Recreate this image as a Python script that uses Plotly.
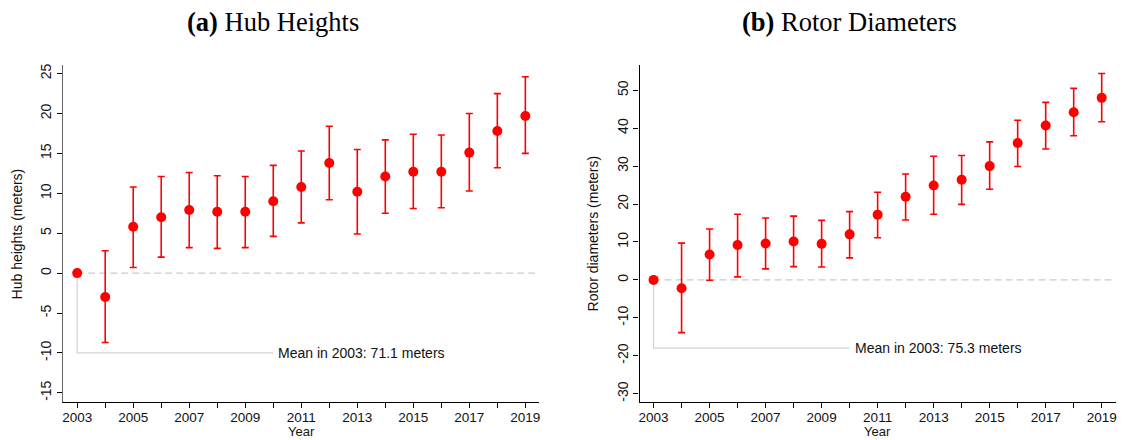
import plotly.graph_objects as go

# Event-study estimates relative to 2003, with 95% confidence bounds
years = list(range(2003, 2020))

hub_coef = [0.0, -3.0, 5.8, 7.0, 7.9, 7.7, 7.7, 9.0, 10.8, 13.8, 10.2, 12.1, 12.7, 12.7, 15.1, 17.8, 19.7]
hub_lower = [None, -8.7, 0.7, 2.0, 3.2, 3.1, 3.2, 4.6, 6.3, 9.2, 4.9, 7.5, 8.1, 8.2, 10.3, 13.2, 15.0]
hub_upper = [None, 2.8, 10.8, 12.1, 12.6, 12.2, 12.1, 13.5, 15.3, 18.4, 15.5, 16.7, 17.4, 17.3, 20.0, 22.5, 24.6]

rotor_coef = [0.0, -2.2, 6.7, 9.2, 9.6, 10.1, 9.5, 12.0, 17.2, 21.9, 24.9, 26.4, 30.0, 36.1, 40.7, 44.2, 48.0]
rotor_lower = [None, -13.9, -0.1, 0.8, 2.9, 3.5, 3.4, 5.8, 11.1, 15.8, 17.3, 19.9, 23.9, 29.9, 34.5, 38.0, 41.7]
rotor_upper = [None, 9.7, 13.4, 17.3, 16.3, 16.8, 15.7, 18.0, 23.1, 27.9, 32.6, 32.8, 36.4, 42.1, 46.8, 50.5, 54.4]

hub_ticks = [-15, -10, -5, 0, 5, 10, 15, 20, 25]
rotor_ticks = [-30, -20, -10, 0, 10, 20, 30, 40, 50]
year_labels = [str(y) if y % 2 == 1 else "" for y in years]

hub_mean_2003 = 71.1
rotor_mean_2003 = 75.3

RED = "#ff0000"
SANS = "Liberation Sans, Arial, sans-serif"
SERIF = "Liberation Serif, Times New Roman, serif"


def errs(coef, lo, hi):
    plus = [None if h is None else h - c for c, h in zip(coef, hi)]
    minus = [None if l is None else c - l for c, l in zip(coef, lo)]
    return plus, minus


fig = go.Figure()

for coef, lo, hi, xa, ya in [
    (hub_coef, hub_lower, hub_upper, "x", "y"),
    (rotor_coef, rotor_lower, rotor_upper, "x2", "y2"),
]:
    plus, minus = errs(coef, lo, hi)
    fig.add_trace(go.Scatter(
        x=years, y=coef, mode="markers", xaxis=xa, yaxis=ya,
        marker=dict(color=RED, size=10, line=dict(width=0)),
        error_y=dict(type="data", symmetric=False, array=plus, arrayminus=minus,
                     color=RED, thickness=1.6, width=3.5),
        showlegend=False, hoverinfo="skip",
    ))

x_dom1 = [62.3 / 1122, 539.3 / 1122]
x_dom2 = [639.7 / 1122, 1116.7 / 1122]
y_dom = [1 - 402.3 / 440, 1 - 64 / 440]

xcommon = dict(
    range=[2002.5, 2019.5], tickvals=years, ticktext=year_labels,
    ticks="outside", ticklen=5, tickwidth=1, tickcolor="#000", ticklabelstandoff=-3,
    showline=True, linecolor="#000", linewidth=1.2, showgrid=False, zeroline=False,
    tickfont=dict(family=SANS, size=13.5, color="#111"),
)
ycommon = dict(
    ticks="outside", ticklen=5, tickwidth=1, tickcolor="#000",
    showgrid=False, zeroline=False, showline=True, linewidth=1.4,
    tickangle=-90, tickfont=dict(family=SANS, size=14, color="#111"),
)

fig.update_layout(
    width=1122, height=440,
    margin=dict(l=0, r=0, t=0, b=0),
    paper_bgcolor="white", plot_bgcolor="white",
    xaxis=dict(domain=x_dom1, anchor="y", **xcommon),
    yaxis=dict(domain=y_dom, anchor="x", range=[-16.2, 26.1], tickvals=hub_ticks,
               ticktext=[str(v) for v in hub_ticks], linecolor="#666", **ycommon),
    xaxis2=dict(domain=x_dom2, anchor="y2", **xcommon),
    yaxis2=dict(domain=y_dom, anchor="x2", range=[-32.3, 56.7], tickvals=rotor_ticks,
                ticktext=[str(v) for v in rotor_ticks], linecolor="#000", **ycommon),
)

shapes = []
annotations = []
panels = [
    ("x", "y", -10, hub_mean_2003, x_dom1, 272.5, "<b>(a)</b> Hub Heights", "Hub heights (meters)", 17),
    ("x2", "y2", -18, rotor_mean_2003, x_dom2, 850.3, "<b>(b)</b> Rotor Diameters", "Rotor diameters (meters)", 594),
]
for xa, ya, ylab, mean, dom, tx, title, ytitle, ytx in panels:
    # dashed reference line at zero
    shapes.append(dict(type="line", xref=xa, yref=ya, x0=2003, x1=2019.4, y0=0, y1=0,
                       line=dict(color="#cccccc", width=1.3, dash="7px,4px"), layer="below"))
    # leader line from the 2003 baseline to its label
    shapes.append(dict(type="path", xref=xa, yref=ya,
                       path=f"M 2003 0 L 2003 {ylab} L 2010 {ylab}",
                       line=dict(color="#d3d3d3", width=1.2), layer="below"))
    annotations.append(dict(xref=xa, yref=ya, x=2010, y=ylab, xanchor="left", yanchor="middle",
                            xshift=3, text=f"Mean in 2003: {mean} meters", showarrow=False,
                            font=dict(family=SANS, size=14, color="#111")))
    cx = (dom[0] + dom[1]) / 2
    annotations.append(dict(xref="paper", yref="paper", x=tx / 1122, y=1 - 21 / 440,
                            xanchor="center", yanchor="middle", text=title, showarrow=False,
                            font=dict(family=SERIF, size=26.5, color="#000")))
    annotations.append(dict(xref="paper", yref="paper", x=cx, y=0, yshift=0, borderpad=0,
                            xanchor="center", yanchor="bottom", text="Year", showarrow=False,
                            font=dict(family=SANS, size=13, color="#111")))
    annotations.append(dict(xref="paper", yref="paper", x=ytx / 1122, y=1 - 233 / 440,
                            xanchor="center", yanchor="middle", text=ytitle, textangle=-90,
                            showarrow=False, font=dict(family=SANS, size=14, color="#111")))

fig.update_layout(shapes=shapes, annotations=annotations)
fig.write_html("out.html")
